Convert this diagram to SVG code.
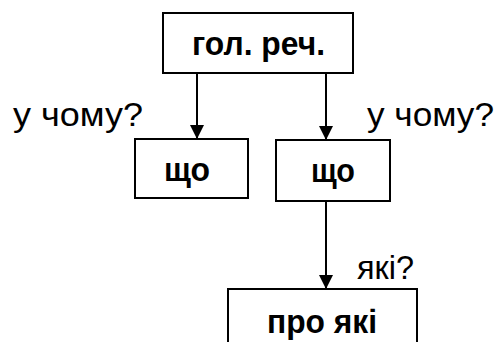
<svg xmlns="http://www.w3.org/2000/svg" width="499" height="342" viewBox="0 0 499 342">
<style>
.box{fill:#fff;stroke:#000;stroke-width:2}
.b{font-family:"Liberation Sans",Arial,sans-serif;font-weight:bold;font-size:34px;text-anchor:middle;fill:#000}
.r{font-family:"Liberation Sans",Arial,sans-serif;font-size:33px;fill:#000}
.c{stroke:#000;stroke-width:2;fill:none}
</style>
<defs>
<marker id="ah" markerWidth="14" markerHeight="14" refX="14" refY="7" orient="auto" markerUnits="userSpaceOnUse">
<path d="M0,0 L14,7 L0,14 Z" fill="#000"/>
</marker>
</defs>
<g id="connectors">
<line class="c" x1="197" y1="73" x2="197" y2="139" marker-end="url(#ah)"/>
<line class="c" x1="326" y1="73" x2="326" y2="140" marker-end="url(#ah)"/>
<line class="c" x1="326" y1="201" x2="326" y2="289" marker-end="url(#ah)"/>
</g>
<g id="n1">
<rect class="box" x="163" y="13" width="190" height="60"/>
<text class="b" x="258.5" y="55" textLength="133" lengthAdjust="spacingAndGlyphs">гол. реч.</text>
</g>
<g id="n2">
<rect class="box" x="135" y="139" width="113" height="59"/>
<text class="b" x="187" y="181" textLength="46" lengthAdjust="spacingAndGlyphs">що</text>
</g>
<g id="n3">
<rect class="box" x="276" y="140" width="114" height="61"/>
<text class="b" x="333" y="182" textLength="44" lengthAdjust="spacingAndGlyphs">що</text>
</g>
<g id="n4">
<rect class="box" x="228" y="289" width="189" height="60"/>
<text class="b" x="322" y="333" textLength="110" lengthAdjust="spacingAndGlyphs">про які</text>
</g>
<g id="labels">
<text class="r" x="13" y="126" textLength="130" lengthAdjust="spacingAndGlyphs">у чому?</text>
<text class="r" x="367" y="126" textLength="127" lengthAdjust="spacingAndGlyphs">у чому?</text>
<text class="r" x="357" y="279" textLength="57" lengthAdjust="spacingAndGlyphs">які?</text>
</g>
</svg>
